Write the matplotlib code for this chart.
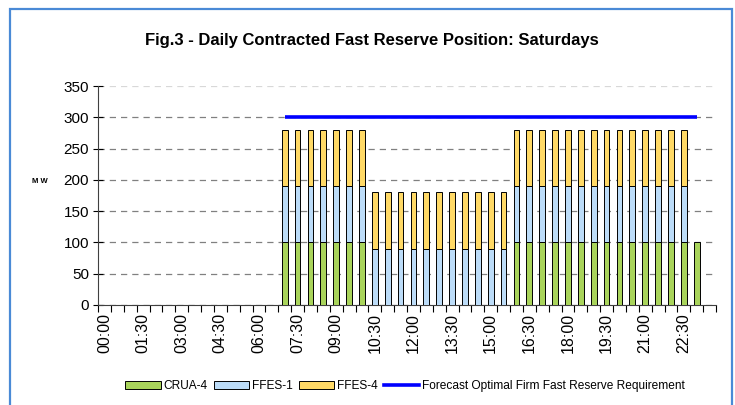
import numpy as np
import matplotlib.pyplot as plt
from matplotlib.patches import Rectangle, Patch
from matplotlib.lines import Line2D

plt.rcParams['font.family'] = ['Liberation Sans', 'DejaVu Sans']

# half-hour settlement periods
times = ['%02d:%02d' % (h, m) for h in range(24) for m in (0, 30)]
nan = np.nan

crua4 = [0]*14 + [100]*7 + [0]*11 + [100]*15 + [0]
ffes1 = [0]*14 + [90]*7 + [90]*11 + [90]*14 + [0, 0]
ffes4 = [0]*14 + [90]*7 + [90]*11 + [90]*14 + [0, 0]
requirement = [nan]*14 + [300]*33 + [nan]

col_crua = '#a9d45b'
col_ffes1 = '#bcdcf8'
col_ffes4 = '#ffd966'
col_line = '#0000ff'

fig = plt.figure(figsize=(7.35, 4.05), dpi=100)
ax = fig.add_axes([98/735, 100/405, 618/735, 219/405])

x = np.arange(len(times))
w = 0.45
crua4 = np.array(crua4, dtype=float)
ffes1 = np.array(ffes1, dtype=float)
ffes4 = np.array(ffes4, dtype=float)

m = crua4 > 0
ax.bar(x[m], crua4[m], w, color=col_crua, edgecolor='black', linewidth=0.7, zorder=3)
m = ffes1 > 0
ax.bar(x[m], ffes1[m], w, bottom=crua4[m], color=col_ffes1, edgecolor='black', linewidth=0.7, zorder=3)
m = ffes4 > 0
ax.bar(x[m], ffes4[m], w, bottom=(crua4 + ffes1)[m], color=col_ffes4, edgecolor='black', linewidth=0.7, zorder=3)
ax.plot(x, requirement, color=col_line, lw=2.6, zorder=4, solid_capstyle='butt')

ax.set_xlim(-0.5, len(times) - 0.5)
ax.set_ylim(0, 350)
ax.set_yticks(np.arange(0, 351, 50))
ax.yaxis.grid(True, linestyle=(0, (5, 4)), color='#808080', linewidth=0.9, zorder=0)
ax.yaxis.get_gridlines()[-1].set_color('#d8d8d8')

# tick marks at category boundaries, labels on every third category
ax.set_xticks(np.arange(-0.5, len(times), 1))
ax.set_xticklabels([])
ax.set_xticks(x[::3], minor=True)
ax.set_xticklabels(times[::3], minor=True, rotation=90, fontsize=11.5)
ax.tick_params(axis='x', which='major', direction='out', length=5, width=0.8)
ax.tick_params(axis='x', which='minor', length=0, pad=6)
ax.tick_params(axis='y', direction='inout', length=7, width=0.8, labelsize=11, pad=3)

for s in ['top', 'right']:
    ax.spines[s].set_visible(False)
for s in ['left', 'bottom']:
    ax.spines[s].set_color('#404040')

ax.set_ylabel('M W', rotation=0, fontsize=5.5, fontweight='bold')
ax.yaxis.set_label_coords(-0.094, 0.548)

fig.text(0.506, 0.9, 'Fig.3 - Daily Contracted Fast Reserve Position: Saturdays',
         ha='center', va='center', fontsize=12, fontweight='bold')

handles = [Patch(facecolor=col_crua, edgecolor='black', linewidth=0.7),
           Patch(facecolor=col_ffes1, edgecolor='black', linewidth=0.7),
           Patch(facecolor=col_ffes4, edgecolor='black', linewidth=0.7),
           Line2D([], [], color=col_line, lw=2.6)]
labels = ['CRUA-4', 'FFES-1', 'FFES-4', 'Forecast Optimal Firm Fast Reserve Requirement']
fig.legend(handles, labels, loc='center', bbox_to_anchor=(0.551, 0.047), ncol=4,
           frameon=False, fontsize=8.6, handlelength=3, handleheight=0.6,
           handletextpad=0.2, columnspacing=0.5)

border = Rectangle((10/735, -0.05), 722/735, 1.05 - 9/405, transform=fig.transFigure,
                   fill=False, edgecolor='#4a8ad6', linewidth=1.6, clip_on=False)
fig.patches.append(border)

plt.savefig('out.png', dpi=100)
